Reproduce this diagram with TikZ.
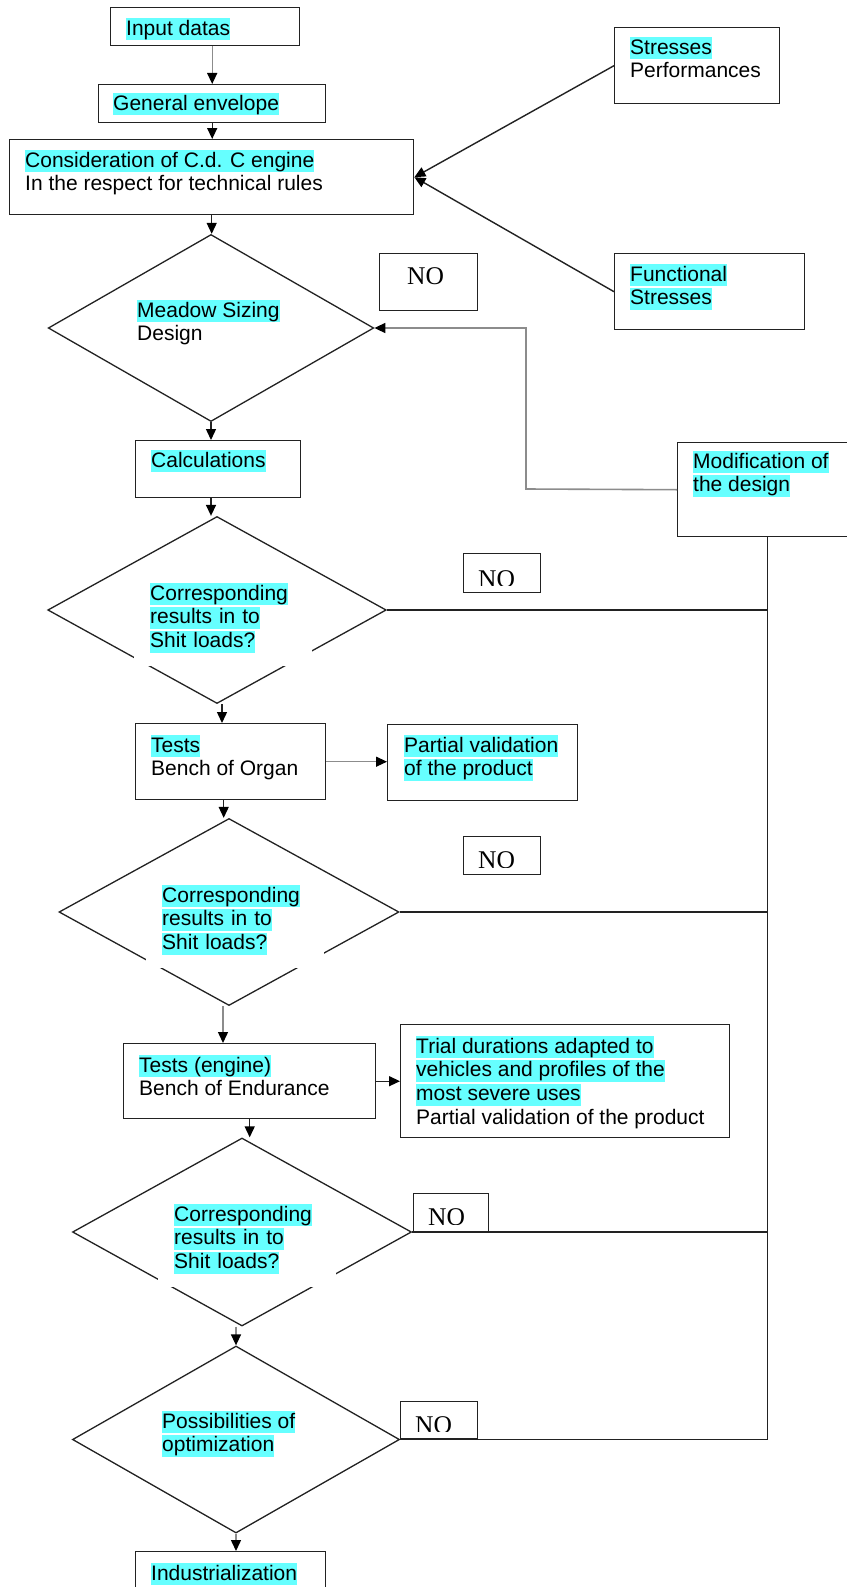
\documentclass[tikz,border=0pt]{standalone}
\usepackage{fontspec}
\setmainfont{Liberation Sans}
\newfontfamily\timesf{Liberation Serif}
\usetikzlibrary{arrows.meta,shapes.geometric}
\definecolor{hlc}{HTML}{66FFFF}
\definecolor{lnc}{HTML}{222222}
\definecolor{gryc}{HTML}{8C8C8C}
\newcommand{\hlt}[1]{{\setlength{\fboxsep}{0pt}\colorbox{hlc}{\rule[-5pt]{0pt}{22pt}#1}}}
\newcommand{\nht}[1]{\rule[-5pt]{0pt}{22pt}#1}
\begin{document}
\begin{tikzpicture}[x=1pt,y=-1pt,
  box/.style={draw=lnc,line width=1.4pt,rectangle,anchor=north west,inner sep=0pt},
  dia/.style={draw=lnc,line width=1.3pt,diamond,inner sep=0pt},
  txt/.style={anchor=north west,inner sep=0pt,align=left,font=\fontsize{21}{23.7}\selectfont},
  dtxt/.style={anchor=north west,inner xsep=16pt,inner ysep=13pt,fill=white,text width=146pt,align=left,font=\fontsize{21}{23.7}\selectfont},
  notxt/.style={anchor=north west,inner sep=0pt,font=\timesf\fontsize{25.5}{26}\selectfont},
  conn/.style={draw=lnc,line width=1.4pt,-{Triangle[length=11pt,width=10pt,color=black]}},
  gconn/.style={conn,draw=gryc},
  fline/.style={draw=lnc,line width=1.4pt},
  gline/.style={draw=gryc,line width=1.6pt}
]
\fill[white] (0,0) rectangle (846,1587);
\useasboundingbox (0,0) rectangle (846,1587);

% top boxes
\node[box,minimum width=189pt,minimum height=38pt] (inp) at (110,7) {};
\node[txt] (inpt) at (126,18) {\hlt{Input datas}};
\node[box,minimum width=227pt,minimum height=38pt] (gen) at (98,84) {};
\node[txt] (gent) at (113,93) {\hlt{General envelope}};
\node[box,minimum width=404pt,minimum height=75pt] (cons) at (9,139) {};
\node[txt] (const) at (25,150) {\hlt{Consideration of C.d. C engine}\\\nht{In the respect for technical rules}};
\node[box,minimum width=165pt,minimum height=76pt] (str) at (614,27) {};
\node[txt] (strt) at (630,37) {\hlt{Stresses}\\\nht{Performances}};
\node[box,minimum width=190pt,minimum height=76pt] (fun) at (614,253) {};
\node[txt] (funt) at (630,264) {\hlt{Functional}\\\hlt{Stresses}};

% diamond 1
\node[dia,minimum width=325.5pt,minimum height=187pt] (d1) at (211,328) {};
\node[txt] (d1t) at (137,300) {\hlt{Meadow Sizing}\\\nht{Design}};
\node[box,minimum width=98pt,minimum height=57pt] (no1) at (379,253) {};
\node[notxt] (no1t) at (407,267) {NO};

\node[box,minimum width=165pt,minimum height=57pt] (calc) at (135,440) {};
\node[txt] (calct) at (151,450) {\hlt{Calculations}};
\node[box,minimum width=180pt,minimum height=94pt] (mod) at (677,442) {};
\node[txt] (modt) at (693,451) {\hlt{Modification of}\\\hlt{the design}};

% diamond 2
\node[dia,minimum width=338.5pt,minimum height=187pt] (d2) at (217,610) {};
\node[dtxt] (d2t) at (134,570) {\hlt{Corresponding}\\\hlt{results in to}\\\hlt{Shit loads?}};
\node[box,minimum width=77pt,minimum height=39pt] (no2) at (463,553) {};
\begin{scope}
\clip (no2.north west) rectangle ([yshift=8pt]no2.south east);
\node[notxt] (no2t) at (478,570) {NO};
\end{scope}

\node[box,minimum width=190pt,minimum height=76pt] (tst) at (135,723) {};
\node[txt] (tstt) at (151,735) {\hlt{Tests}\\\nht{Bench of Organ}};
\node[box,minimum width=190pt,minimum height=76pt] (pv) at (387,724) {};
\node[txt] (pvt) at (404,735) {\hlt{Partial validation}\\\hlt{of the product}};

% diamond 3
\node[dia,minimum width=340pt,minimum height=187pt] (d3) at (229,912) {};
\node[dtxt] (d3t) at (146,872) {\hlt{Corresponding}\\\hlt{results in to}\\\hlt{Shit loads?}};
\node[box,minimum width=77pt,minimum height=38pt] (no3) at (463,836) {};
\begin{scope}
\clip (no3.north west) rectangle ([yshift=8pt]no3.south east);
\node[notxt] (no3t) at (478,851) {NO};
\end{scope}

\node[box,minimum width=252pt,minimum height=75pt] (te) at (123,1043) {};
\node[txt] (tet) at (139,1055) {\hlt{Tests (engine)}\\\nht{Bench of Endurance}};
\node[box,minimum width=329pt,minimum height=113pt] (tr) at (400,1024) {};
\node[txt] (trt) at (416,1036) {\hlt{Trial durations adapted to}\\\hlt{vehicles and profiles of the}\\\hlt{most severe uses}\\\nht{Partial validation of the product}};

% diamond 4
\node[dia,minimum width=339pt,minimum height=188pt] (d4) at (242,1232) {};
\node[dtxt] (d4t) at (158,1191) {\hlt{Corresponding}\\\hlt{results in to}\\\hlt{Shit loads?}};
\node[box,minimum width=75pt,minimum height=38pt] (no4) at (413,1193) {};
\begin{scope}
\clip (no4.north west) rectangle ([yshift=8pt]no4.south east);
\node[notxt] (no4t) at (428,1208) {NO};
\end{scope}

% diamond 5
\node[dia,minimum width=327pt,minimum height=187pt] (d5) at (236,1439.5) {};
\node[txt] (d5t) at (162,1411) {\hlt{Possibilities of}\\\hlt{optimization}};
\node[box,minimum width=77pt,minimum height=37pt] (no5) at (400,1401) {};
\begin{scope}
\clip (no5.north west) rectangle ([yshift=8pt]no5.south east);
\node[notxt] (no5t) at (415,1416) {NO};
\end{scope}

\node[box,minimum width=190pt,minimum height=60pt] (ind) at (135,1551) {};
\node[txt] (indt) at (151,1563) {\hlt{Industrialization}};

% connectors
\draw[gconn] (inp.south -| gen.north) -- (gen.north);
\draw[conn] (gen.south) -- (gen.south |- cons.north);
\draw[conn] (str.west) -- (cons.east);
\draw[conn] (fun.west) -- (cons.east);
\draw[conn] (cons.south) -- (cons.south |- d1.north);
\draw[conn] (d1.south) -- (d1.south |- calc.north);
\draw[conn] (d1.south |- calc.south) -- (d1.south |- d2.north);
\draw[conn] ([xshift=5pt]d2.south) -- ([xshift=5pt]d2.south |- tst.north);
\draw[gconn] (tst.east) -- (tst.east -| pv.west);
\draw[conn] ([xshift=-7pt]tst.south) -- ([xshift=-7pt]tst.south |- d3.north);
\draw[gconn] ([xshift=-6pt]d3.south) -- ([xshift=-6pt]d3.south |- te.north);
\draw[conn] (te.east) -- (te.east -| tr.west);
\draw[conn] (te.south) -- (te.south |- d4.north);
\draw[gconn] (d5.north |- d4.south) -- (d5.north);
\draw[gconn] (d5.south) -- (d5.south |- ind.north);

\coordinate (fb) at (526,489);
\draw[gline,-{Triangle[length=11pt,width=10pt,color=black]}] (mod.west) -- (fb) |- (d1.east);
\draw[fline] (mod.south) -- (mod.south |- d5.east);
\draw[fline] (d2.east) -- (d2.east -| mod.south);
\draw[fline] (d3.east) -- (d3.east -| mod.south);
\draw[fline] (d4.east) -- (d4.east -| mod.south);
\draw[fline] (d5.east) -- (d5.east -| mod.south);
\end{tikzpicture}
\end{document}
